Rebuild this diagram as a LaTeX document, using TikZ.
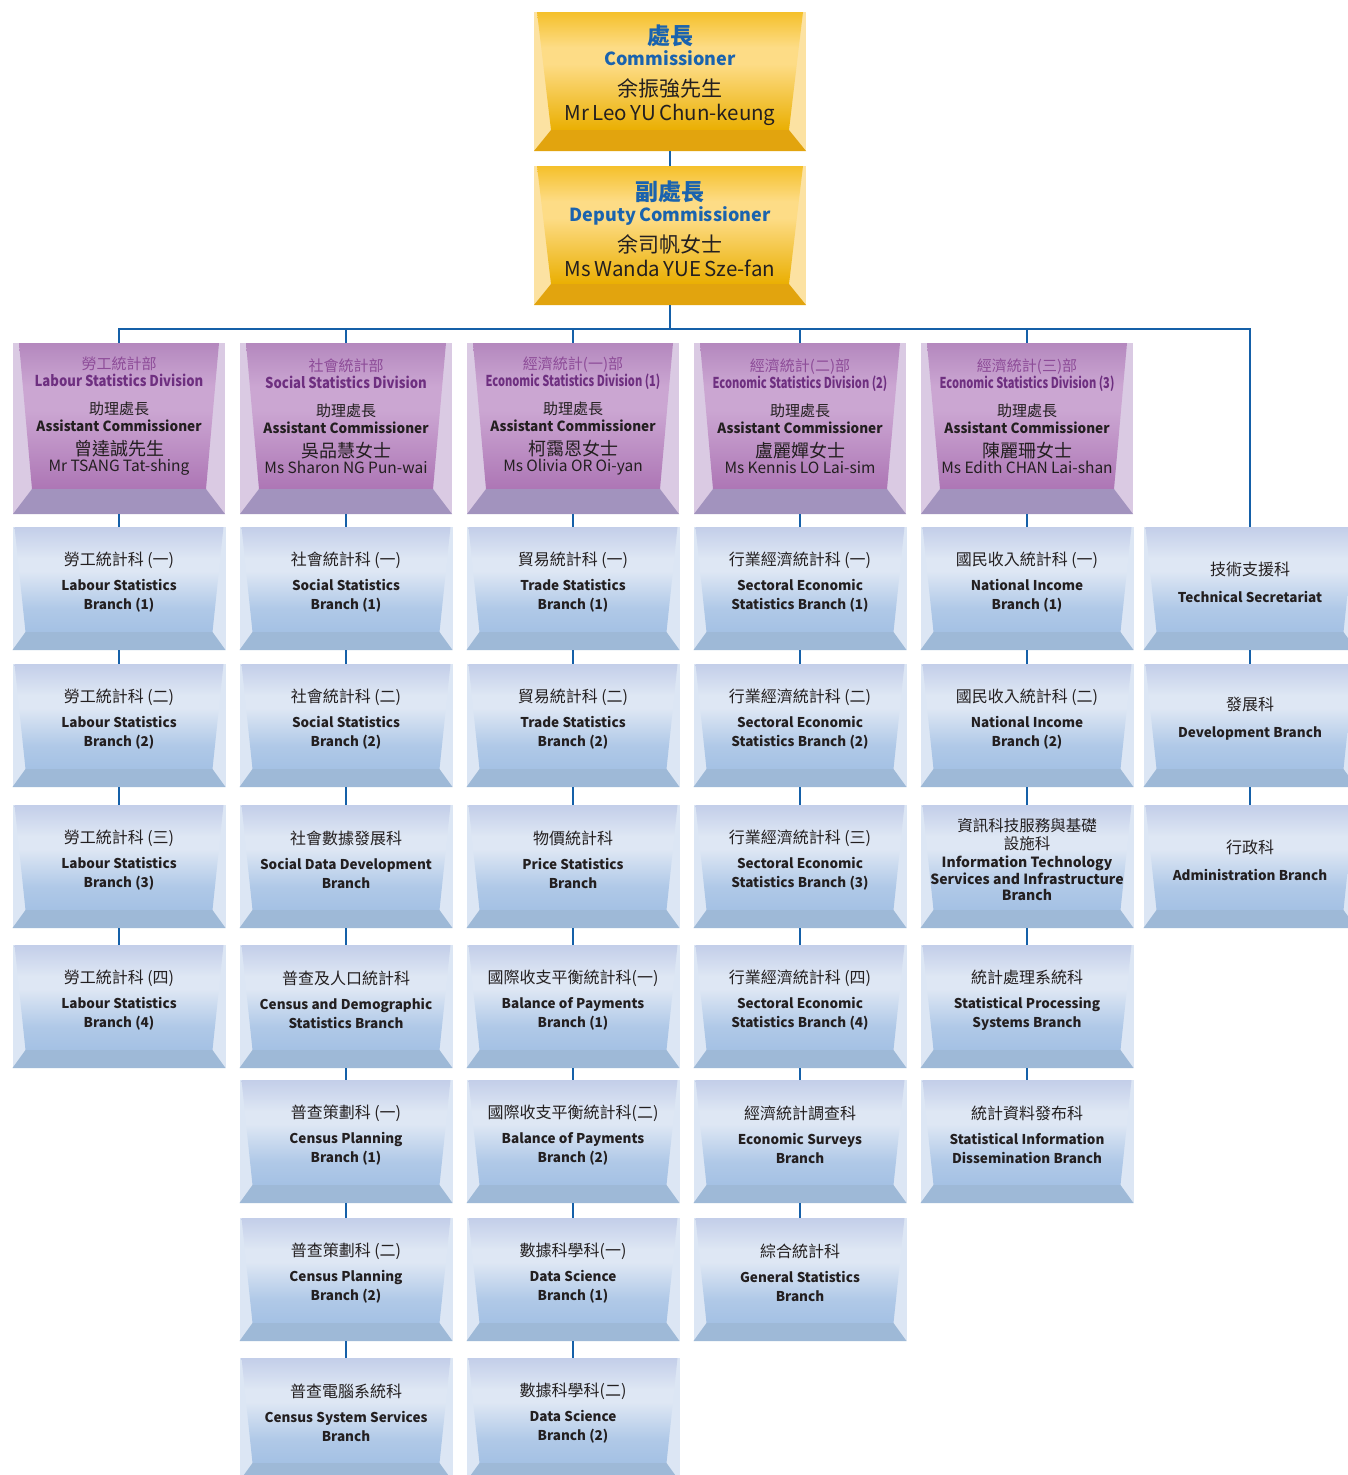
\documentclass[tikz,border=0pt]{standalone}
\usepackage{graphicx}
\usepackage{fontspec}
\setmainfont{Noto Sans CJK TC}
\definecolor{lineblue}{HTML}{1560A8}
\definecolor{ttblue}{HTML}{1A63AE}
\definecolor{dark}{HTML}{231F20}
\definecolor{purA}{HTML}{8D4C98}
\definecolor{purB}{HTML}{6E2F80}
% blue
\definecolor{bTop}{HTML}{C3CEE9}
\definecolor{bMid}{HTML}{DEE7F4}
\definecolor{bBot}{HTML}{A4C1E4}
\definecolor{bSide}{HTML}{DCE6F4}
\definecolor{bStrip}{HTML}{9EB9D7}
% purple
\definecolor{pTop}{HTML}{B488BE}
\definecolor{pMid}{HTML}{CBA6D2}
\definecolor{pBot}{HTML}{AD76B5}
\definecolor{pSide}{HTML}{DACAE3}
\definecolor{pStrip}{HTML}{A293BE}
% gold
\definecolor{gTop}{HTML}{F5C02A}
\definecolor{gMid}{HTML}{FDDC86}
\definecolor{gBot}{HTML}{EAAF02}
\definecolor{gSide}{HTML}{FCE2A2}
\definecolor{gStrip}{HTML}{E2A40E}
% path bounding box maps to 25bp..75bp of the shading
\pgfdeclareverticalshading{bface}{100bp}{color(0bp)=(bBot); color(25bp)=(bBot); color(36bp)=(bBot!80!bMid); color(54bp)=(bMid); color(60bp)=(bMid); color(75bp)=(bTop); color(100bp)=(bTop)}
\pgfdeclareverticalshading{pface}{100bp}{color(0bp)=(pBot); color(25bp)=(pBot); color(52bp)=(pMid); color(60bp)=(pMid); color(75bp)=(pTop); color(100bp)=(pTop)}
\pgfdeclareverticalshading{gface}{100bp}{color(0bp)=(gBot); color(25bp)=(gBot); color(53bp)=(gMid); color(60bp)=(gMid); color(75bp)=(gTop); color(100bp)=(gTop)}
\tikzset{
  conn/.style={draw=lineblue, line width=2.6pt},
}
\newcommand\zhB{\fontsize{16}{19}\selectfont\mdseries}
\newcommand\enB{\fontsize{13.5}{19}\selectfont\bfseries}
\newcommand\br[2]{\color{dark}\zhB #1\\[6.5pt]\enB #2}
\newcommand\brs[2]{\color{dark}\zhB #1\\[8pt]\enB #2}
\newcommand\dv[4]{\color{purA}\fontsize{15}{17}\selectfont #1\\
  \color{purB}\fontsize{15}{17}\selectfont\bfseries #2\\[8pt]
  \color{dark}\fontsize{15}{20}\selectfont\mdseries 助理處長\\
  \fontsize{14}{17}\selectfont\bfseries\scalebox{0.97}[1]{Assistant Commissioner}\\
  \fontsize{18}{24}\selectfont\mdseries #3\\
  \fontsize{15.5}{16}\selectfont #4}
\newcommand\gd[4]{\color{ttblue}\fontsize{23}{23}\selectfont\bfseries #1\\
  \fontsize{18}{21}\selectfont #2\\[7pt]
  \color{dark}\fontsize{21}{24}\selectfont\mdseries #3\\
  \fontsize{20.5}{24}\selectfont #4}
% generic bevelled box: #1 name, #2 cx, #3 top, #4 width, #5 height, #6 text
% uses \bti (top inset) \bbi (bottom inset) \bsh (strip height) \bth (theme) \bys (text shift)
\newcommand\bevbox[6]{%
  \pgfmathsetmacro\xl{#2-#4/2}\pgfmathsetmacro\xr{#2+#4/2}%
  \pgfmathsetmacro\yb{#3+#5}\pgfmathsetmacro\ys{#3+#5-\bsh}%
  \pgfmathsetmacro\yt{(#3+\ys)/2+\bys}%
  \fill[\bth Side] (\xl,#3) rectangle (\xr,\yb);
  \shade[shading=\bth face] (\xl+\bti,#3) -- (\xr-\bti,#3) -- (\xr-\bbi,\ys) -- (\xl+\bbi,\ys) -- cycle;
  \fill[\bth Strip] (\xl+\bbi,\ys) -- (\xr-\bbi,\ys) -- (\xr,\yb) -- (\xl,\yb) -- cycle;
  \node[minimum width=#4, minimum height=#5, inner sep=0pt, anchor=north] (#1) at (#2,#3) {};
  \node[text width=#4pt, inner sep=0pt] at (#2,\yt) {\centering\lineskiplimit=-30pt\lineskip=0pt #6\par};
}
\newcommand\bluebox[4]{\def\bti{2}\def\bbi{13}\def\bsh{18}\def\bth{b}\def\bys{2.5}\bevbox{#1}{#2}{#3}{213}{123}{#4}}
\newcommand\purplebox[4]{\def\bti{6}\def\bbi{19}\def\bsh{25}\def\bth{p}\def\bys{0}\bevbox{#1}{#2}{#3}{212}{171}{#4}}
\newcommand\goldbox[4]{\def\bti{3}\def\bbi{17}\def\bsh{21}\def\bth{g}\def\bys{4}\bevbox{#1}{#2}{#3}{272}{139}{#4}}
\begin{document}
\begin{tikzpicture}[x=1pt,y=-1pt]
\useasboundingbox (0,0) rectangle (1347,1475);
\fill[white] (0,0) rectangle (1347,1475);
% top
\goldbox{com}{670}{12}{\gd{處長}{Commissioner}{余振強先生}{Mr Leo YU Chun-keung}}
\goldbox{dep}{670}{166}{\gd{副處長}{Deputy Commissioner}{余司帆女士}{Ms Wanda YUE Sze-fan}}
% divisions
\purplebox{d1}{119}{343}{\dv{勞工統計部}{\scalebox{0.876}[1]{Labour Statistics Division}}{曾達誠先生}{Mr TSANG Tat-shing}}
\purplebox{d2}{346}{343}{\dv{社會統計部}{\scalebox{0.876}[1]{Social Statistics Division}}{吳品慧女士}{Ms Sharon NG Pun-wai}}
\purplebox{d3}{573}{343}{\dv{經濟統計(一)部}{\scalebox{0.74}[1]{Economic Statistics Division (1)}}{柯靄恩女士}{Ms Olivia OR Oi-yan}}
\purplebox{d4}{800}{343}{\dv{經濟統計(二)部}{\scalebox{0.74}[1]{Economic Statistics Division (2)}}{盧麗嬋女士}{Ms Kennis LO Lai-sim}}
\purplebox{d5}{1027}{343}{\dv{經濟統計(三)部}{\scalebox{0.74}[1]{Economic Statistics Division (3)}}{陳麗珊女士}{Ms Edith CHAN Lai-shan}}
% column 1
\bluebox{a1}{119}{527}{\br{勞工統計科 (一)}{Labour Statistics\\Branch (1)}}
\bluebox{a2}{119}{664}{\br{勞工統計科 (二)}{Labour Statistics\\Branch (2)}}
\bluebox{a3}{119}{805}{\br{勞工統計科 (三)}{Labour Statistics\\Branch (3)}}
\bluebox{a4}{119}{945}{\br{勞工統計科 (四)}{Labour Statistics\\Branch (4)}}
% column 2
\bluebox{b1}{346}{527}{\br{社會統計科 (一)}{Social Statistics\\Branch (1)}}
\bluebox{b2}{346}{664}{\br{社會統計科 (二)}{Social Statistics\\Branch (2)}}
\bluebox{b3}{346}{805}{\br{社會數據發展科}{Social Data Development\\Branch}}
\bluebox{b4}{346}{945}{\br{普查及人口統計科}{Census and Demographic\\Statistics Branch}}
\bluebox{b5}{346}{1080}{\br{普查策劃科 (一)}{Census Planning\\Branch (1)}}
\bluebox{b6}{346}{1218}{\br{普查策劃科 (二)}{Census Planning\\Branch (2)}}
\bluebox{b7}{346}{1358}{\br{普查電腦系統科}{Census System Services\\Branch}}
% column 3
\bluebox{c1}{573}{527}{\br{貿易統計科 (一)}{Trade Statistics\\Branch (1)}}
\bluebox{c2}{573}{664}{\br{貿易統計科 (二)}{Trade Statistics\\Branch (2)}}
\bluebox{c3}{573}{805}{\br{物價統計科}{Price Statistics\\Branch}}
\bluebox{c4}{573}{945}{\br{國際收支平衡統計科(一)}{Balance of Payments\\Branch (1)}}
\bluebox{c5}{573}{1080}{\br{國際收支平衡統計科(二)}{Balance of Payments\\Branch (2)}}
\bluebox{c6}{573}{1218}{\br{數據科學科(一)}{Data Science\\Branch (1)}}
\bluebox{c7}{573}{1358}{\br{數據科學科(二)}{Data Science\\Branch (2)}}
% column 4
\bluebox{e1}{800}{527}{\br{行業經濟統計科 (一)}{Sectoral Economic\\Statistics Branch (1)}}
\bluebox{e2}{800}{664}{\br{行業經濟統計科 (二)}{Sectoral Economic\\Statistics Branch (2)}}
\bluebox{e3}{800}{805}{\br{行業經濟統計科 (三)}{Sectoral Economic\\Statistics Branch (3)}}
\bluebox{e4}{800}{945}{\br{行業經濟統計科 (四)}{Sectoral Economic\\Statistics Branch (4)}}
\bluebox{e5}{800}{1080}{\br{經濟統計調查科}{Economic Surveys\\Branch}}
\bluebox{e6}{800}{1218}{\br{綜合統計科}{General Statistics\\Branch}}
% column 5
\bluebox{f1}{1027}{527}{\br{國民收入統計科 (一)}{National Income\\Branch (1)}}
\bluebox{f2}{1027}{664}{\br{國民收入統計科 (二)}{National Income\\Branch (2)}}
\bluebox{f3}{1027}{805}{\color{dark}\fontsize{15.5}{17.5}\selectfont 資訊科技服務與基礎\\設施科\\[2pt]\fontsize{14}{16.5}\selectfont\bfseries Information Technology\\Services and Infrastructure\\Branch}
\bluebox{f4}{1027}{945}{\br{統計處理系統科}{Statistical Processing\\Systems Branch}}
\bluebox{f5}{1027}{1080}{\br{統計資料發布科}{Statistical Information\\Dissemination Branch}}
% column 6
\bluebox{t1}{1250}{527}{\brs{技術支援科}{Technical Secretariat}}
\bluebox{t2}{1250}{664}{\brs{發展科}{Development Branch}}
\bluebox{t3}{1250}{805}{\brs{行政科}{Administration Branch}}
% connectors
\coordinate (bus) at (0,329);
\draw[conn] (com.south) -- (dep.north);
\draw[conn] (dep.south) -- (dep.south |- bus);
\draw[conn, line join=miter] (d1.north) |- (t1.north |- bus) -- (t1.north);
\foreach \d in {d2,d3,d4,d5} \draw[conn] (\d.north |- bus) -- (\d.north);
\foreach \u/\v in {d1/a1,a1/a2,a2/a3,a3/a4,
  d2/b1,b1/b2,b2/b3,b3/b4,b4/b5,b5/b6,b6/b7,
  d3/c1,c1/c2,c2/c3,c3/c4,c4/c5,c5/c6,c6/c7,
  d4/e1,e1/e2,e2/e3,e3/e4,e4/e5,e5/e6,
  d5/f1,f1/f2,f2/f3,f3/f4,f4/f5,
  t1/t2,t2/t3}
  \draw[conn] (\u.south) -- (\v.north);
\end{tikzpicture}
\end{document}
